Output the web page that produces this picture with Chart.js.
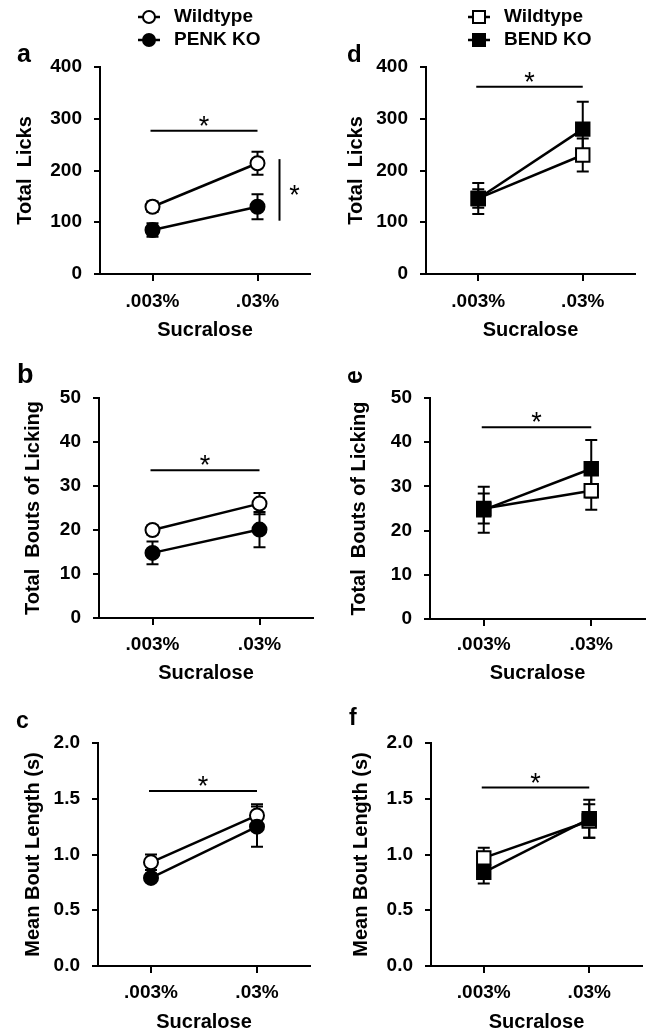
<!DOCTYPE html>
<html>
<head>
<meta charset="utf-8">
<script src="https://cdn.jsdelivr.net/npm/chart.js@4.4.1/dist/chart.umd.min.js"></script>
<style>
html, body { margin: 0; padding: 0; background: #fff; width: 651px; height: 1033px; overflow: hidden; }
canvas { position: absolute; }
</style>
</head>
<body>
<canvas id="pa"></canvas>
<canvas id="pd"></canvas>
<canvas id="pb"></canvas>
<canvas id="pe"></canvas>
<canvas id="pc"></canvas>
<canvas id="pf"></canvas>
<script>
// values (mean, sem)
const concentrations = ['.003%', '.03%'];

const licksWT = [130, 214];
const licksWTErr = [10, 22];
const licksPenk = [85, 130];
const licksPenkErr = [13, 24];
const licksWT2 = [146, 230];
const licksWT2Err = [18, 32];
const licksBend = [146, 280];
const licksBendErr = [30, 53];

const boutsWT = [20, 26];
const boutsWTErr = [1, 2.4];
const boutsPenk = [14.8, 20.1];
const boutsPenkErr = [2.6, 4];
const boutsWT2 = [25, 29];
const boutsWT2Err = [3.4, 4.3];
const boutsBend = [24.7, 34];
const boutsBendErr = [5.2, 6.5];

const lengthWT = [0.93, 1.35];
const lengthWTErr = [0.07, 0.1];
const lengthPenk = [0.79, 1.25];
const lengthPenkErr = [0.03, 0.18];
const lengthWT2 = [0.97, 1.30];
const lengthWT2Err = [0.09, 0.15];
const lengthBend = [0.84, 1.32];
const lengthBendErr = [0.10, 0.17];

const licksTicks = [0, 100, 200, 300, 400];
const boutsTicks = [0, 10, 20, 30, 40, 50];
const lengthTicks = [0, 0.5, 1.0, 1.5, 2.0];
const lengthTickLabels = ['0.0', '0.5', '1.0', '1.5', '2.0'];

// significance bars (y value of the bar)
const sigA = 277, sigD = 362, sigB = 33.6, sigE = 43.4, sigC = 1.57, sigF = 1.60;
// genotype bar in panel a (from, to)
const genotypeA = [103, 222];

const FONT = "'Liberation Sans', Arial, Helvetica, sans-serif";

const errorBars = {
    id: 'errorBars',
    beforeDatasetsDraw(chart) {
        const ctx = chart.ctx;
        const y = chart.scales.y;
        ctx.save();
        ctx.strokeStyle = '#000';
        ctx.lineWidth = 2;
        chart.data.datasets.forEach((ds, i) => {
            chart.getDatasetMeta(i).data.forEach((pt, j) => {
                const top = y.getPixelForValue(ds.data[j] + ds.errors[j]);
                const bot = y.getPixelForValue(ds.data[j] - ds.errors[j]);
                ctx.beginPath();
                ctx.moveTo(pt.x, top); ctx.lineTo(pt.x, bot);
                ctx.moveTo(pt.x - 6, top); ctx.lineTo(pt.x + 6, top);
                ctx.moveTo(pt.x - 6, bot); ctx.lineTo(pt.x + 6, bot);
                ctx.stroke();
            });
        });
        ctx.restore();
    }
};

function star(ctx, cx, cy) {
    ctx.font = '27px ' + FONT;
    ctx.textAlign = 'center';
    ctx.textBaseline = 'alphabetic';
    const m = ctx.measureText('*');
    ctx.fillText('*', cx, cy + (m.actualBoundingBoxAscent - m.actualBoundingBoxDescent) / 2);
}

const extras = {
    id: 'extras',
    afterDraw(chart, args, o) {
        const ctx = chart.ctx;
        const x = chart.scales.x, y = chart.scales.y;
        ctx.save();
        ctx.fillStyle = '#000';
        ctx.strokeStyle = '#000';
        ctx.lineWidth = 2;

        // concentration significance bar
        const x0 = x.getPixelForValue(0) - 2, x1 = x.getPixelForValue(1);
        const ys = y.getPixelForValue(o.sig);
        ctx.beginPath(); ctx.moveTo(x0, ys); ctx.lineTo(x1, ys); ctx.stroke();
        star(ctx, (x0 + x1) / 2, ys - 10);

        // genotype bar
        if (o.geno) {
            const xv = x.getPixelForValue(1) + 22;
            const ya = y.getPixelForValue(o.geno[0]), yb = y.getPixelForValue(o.geno[1]);
            ctx.beginPath(); ctx.moveTo(xv, ya); ctx.lineTo(xv, yb); ctx.stroke();
            star(ctx, xv + 15, (ya + yb) / 2);
        }

        // panel letter
        const L = o.letter;
        ctx.font = 'bold ' + L.size + 'px ' + FONT;
        if (L.rotate) {
            ctx.translate(L.x - o.box.x, L.y - o.box.y);
            ctx.rotate(-Math.PI / 2);
            ctx.textAlign = 'center';
            ctx.textBaseline = 'middle';
            ctx.fillText(L.t, 0, 0);
            ctx.setTransform(chart.currentDevicePixelRatio, 0, 0, chart.currentDevicePixelRatio, 0, 0);
        } else {
            ctx.textAlign = 'left';
            ctx.textBaseline = 'alphabetic';
            ctx.fillText(L.t, L.x - o.box.x, L.y - o.box.y);
        }

        // legend
        if (o.legend) {
            const lg = o.legend;
            chart.data.datasets.forEach((ds, i) => {
                const ry = lg.rows[i] - o.box.y;
                const mx = lg.x - o.box.x;
                ctx.lineWidth = 2.5;
                ctx.beginPath(); ctx.moveTo(mx - 11, ry); ctx.lineTo(mx + 11, ry); ctx.stroke();
                ctx.fillStyle = ds.pointBackgroundColor;
                ctx.lineWidth = 2;
                ctx.beginPath();
                if (ds.pointStyle === 'circle') ctx.arc(mx, ry, 6, 0, Math.PI * 2);
                else ctx.rect(mx - 6, ry - 6, 12, 12);
                ctx.fill(); ctx.stroke();
                ctx.fillStyle = '#000';
                ctx.font = 'bold 19px ' + FONT;
                ctx.textAlign = 'left';
                ctx.textBaseline = 'middle';
                ctx.fillText(ds.label, lg.textX - o.box.x, ry);
            });
        }
        ctx.restore();
    }
};

function series(label, values, errors, shape, fill, order) {
    return {
        label: label,
        data: values,
        errors: errors,
        order: order,
        borderColor: '#000',
        borderWidth: 2.5,
        tension: 0,
        fill: false,
        pointStyle: shape,
        pointRadius: shape === 'circle' ? 7 : 9.5,
        pointBackgroundColor: fill,
        pointBorderColor: '#000',
        pointBorderWidth: 2,
        clip: false
    };
}

function makePanel(p) {
    // canvas reaches 24px left of the y title centre so the panel letter fits
    const box = {
        x: p.yTitleX - 24,
        y: p.top,
        w: p.area.R + 12 - (p.yTitleX - 24),
        h: p.xTitleY + 14 - p.top
    };
    const cv = document.getElementById(p.id);
    cv.width = box.w; cv.height = box.h;
    cv.style.left = box.x + 'px'; cv.style.top = box.y + 'px';
    cv.style.width = box.w + 'px'; cv.style.height = box.h + 'px';

    const yW = p.area.L - box.x;
    const xH = box.y + box.h - p.area.B;
    const tickFont = { family: FONT, size: 19, weight: 'bold', lineHeight: 1.2 };
    const titleFont = { family: FONT, size: 20, weight: 'bold', lineHeight: 1.2 };
    const axisGrid = { display: true, drawOnChartArea: false, drawTicks: true, color: '#000', lineWidth: 2 };

    new Chart(cv, {
        type: 'line',
        data: {
            labels: concentrations,
            datasets: [
                series('Wildtype', p.wt, p.wtErr, p.shape, '#fff', 1),
                series(p.koLabel, p.ko, p.koErr, p.shape, '#000', 0)
            ]
        },
        options: {
            responsive: false,
            animation: false,
            events: [],
            layout: { padding: { top: p.area.T - box.y, right: box.x + box.w - p.area.R, left: 0, bottom: 0 } },
            scales: {
                x: {
                    type: 'category',
                    offset: true,
                    grid: Object.assign({}, axisGrid, { offset: false, tickLength: 7 }),
                    border: { display: true, color: '#000', width: 2 },
                    ticks: { color: '#000', font: tickFont, padding: p.xTickY - p.area.B - 7 - 11.4, maxRotation: 0 },
                    title: { display: true, text: 'Sucralose', color: '#000', font: titleFont, padding: { top: 2, bottom: 2 } },
                    afterFit: s => { s.height = xH; }
                },
                y: {
                    type: 'linear',
                    min: p.yTicks[0],
                    max: p.yTicks[p.yTicks.length - 1],
                    grid: Object.assign({}, axisGrid, { tickLength: 6 }),
                    border: { display: true, color: '#000', width: 2 },
                    afterBuildTicks: s => { s.ticks = p.yTicks.map(v => ({ value: v })); },
                    ticks: {
                        color: '#000', font: tickFont, padding: 12,
                        callback: (v, i) => p.yLabels ? p.yLabels[i] : String(v)
                    },
                    title: { display: true, text: p.yTitle, color: '#000', font: titleFont, padding: { top: 12, bottom: 2 } },
                    afterFit: s => { s.width = yW; }
                }
            },
            plugins: {
                legend: { display: false },
                tooltip: { enabled: false },
                extras: { box: box, sig: p.sig, geno: p.geno, letter: p.letter, legend: p.legend }
            }
        },
        plugins: [errorBars, extras]
    });
}

makePanel({
    id: 'pa', top: 0, area: { L: 100, R: 310, T: 67, B: 274 }, yTitleX: 25, xTickY: 302, xTitleY: 330,
    yTitle: 'Total  Licks', yTicks: licksTicks, shape: 'circle', koLabel: 'PENK KO',
    wt: licksWT, wtErr: licksWTErr, ko: licksPenk, koErr: licksPenkErr,
    sig: sigA, geno: genotypeA,
    letter: { t: 'a', x: 17, y: 62, size: 25 },
    legend: { x: 149, textX: 174, rows: [17, 40] }
});
makePanel({
    id: 'pd', top: 0, area: { L: 426, R: 635, T: 67, B: 274 }, yTitleX: 356, xTickY: 302, xTitleY: 330,
    yTitle: 'Total  Licks', yTicks: licksTicks, shape: 'rect', koLabel: 'BEND KO',
    wt: licksWT2, wtErr: licksWT2Err, ko: licksBend, koErr: licksBendErr,
    sig: sigD,
    letter: { t: 'd', x: 347, y: 62, size: 24 },
    legend: { x: 479, textX: 504, rows: [17, 40] }
});
makePanel({
    id: 'pb', top: 345, area: { L: 99, R: 313, T: 398, B: 618 }, yTitleX: 33, xTickY: 645, xTitleY: 673,
    yTitle: 'Total  Bouts of Licking', yTicks: boutsTicks, shape: 'circle', koLabel: 'PENK KO',
    wt: boutsWT, wtErr: boutsWTErr, ko: boutsPenk, koErr: boutsPenkErr,
    sig: sigB,
    letter: { t: 'b', x: 17, y: 383, size: 27 }
});
makePanel({
    id: 'pe', top: 345, area: { L: 430, R: 645, T: 398, B: 619 }, yTitleX: 359, xTickY: 645, xTitleY: 673,
    yTitle: 'Total  Bouts of Licking', yTicks: boutsTicks, shape: 'rect', koLabel: 'BEND KO',
    wt: boutsWT2, wtErr: boutsWT2Err, ko: boutsBend, koErr: boutsBendErr,
    sig: sigE,
    letter: { t: 'e', x: 355, y: 377, size: 25, rotate: true }
});
makePanel({
    id: 'pc', top: 690, area: { L: 98, R: 310, T: 743, B: 966 }, yTitleX: 33, xTickY: 993, xTitleY: 1022,
    yTitle: 'Mean Bout Length (s)', yTicks: lengthTicks, yLabels: lengthTickLabels, shape: 'circle', koLabel: 'PENK KO',
    wt: lengthWT, wtErr: lengthWTErr, ko: lengthPenk, koErr: lengthPenkErr,
    sig: sigC,
    letter: { t: 'c', x: 16, y: 728, size: 23 }
});
makePanel({
    id: 'pf', top: 690, area: { L: 431, R: 642, T: 743, B: 966 }, yTitleX: 361, xTickY: 993, xTitleY: 1022,
    yTitle: 'Mean Bout Length (s)', yTicks: lengthTicks, yLabels: lengthTickLabels, shape: 'rect', koLabel: 'BEND KO',
    wt: lengthWT2, wtErr: lengthWT2Err, ko: lengthBend, koErr: lengthBendErr,
    sig: sigF,
    letter: { t: 'f', x: 349, y: 725, size: 23 }
});
</script>
</body>
</html>
